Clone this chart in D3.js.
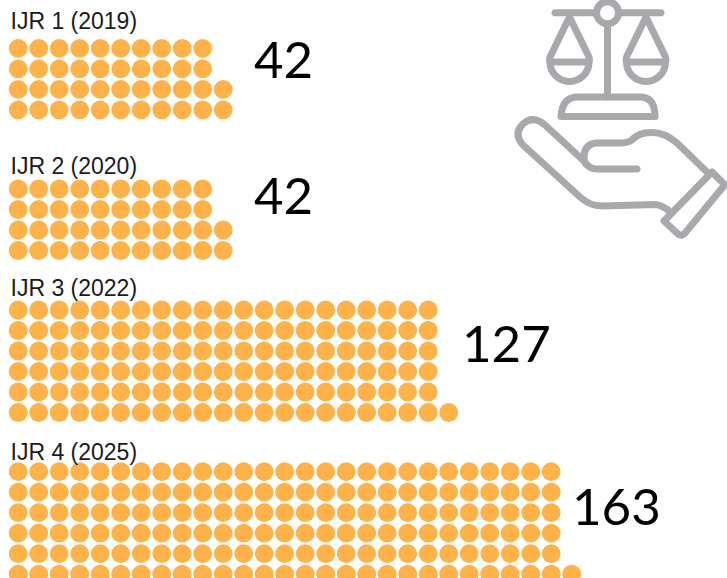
<!DOCTYPE html>
<html>
<head>
<meta charset="utf-8">
<title>IJR dots</title>
<style>
  body{margin:0;background:#fff;}
  svg{display:block;}
  .label{font-family:"Liberation Sans",sans-serif;font-size:23px;fill:#1a1a1a;}
  .total{font-family:Lato,sans-serif;font-size:51px;fill:#000;}
  .icon path,.icon circle{fill:none;stroke:#a7a9ac;stroke-width:7;stroke-linecap:round;stroke-linejoin:round;}
</style>
</head>
<body>
<div id="container"></div>
<script src="https://cdn.jsdelivr.net/npm/d3@7/dist/d3.min.js"></script>
<script>
  var editions = ["IJR 1 (2019)","IJR 2 (2020)","IJR 3 (2022)","IJR 4 (2025)"];
  var totals = [42,42,127,163];
  var rowCounts = [4,4,6,6];

  var width = 727, height = 578;
  var pitch = 20.5, radius = 9.4;
  // px positions per block: top dot row, label baseline, big number
  var blockTop = [48.3,189,310,471.7];
  var labelY = [29,174,296,460];
  var totalX = [254,254,462,572];
  var totalY = [78,214,362,525];

  var svg = d3.select("#container").append("svg")
      .attr("width",width)
      .attr("height",height);

  var xScale = d3.scaleLinear().domain([0,1]).range([18.2,18.2+pitch]);
  var yScale = d3.scaleLinear().domain([0,1]).range([0,pitch]);

  // the leftovers go on the bottom rows, so those rows stick out by one
  function makeDots(total,rows){
    var base = Math.floor(total/rows), extra = total%rows, dots = [];
    for(var r=0;r<rows;r++){
      var n = r >= rows-extra ? base+1 : base;
      for(var c=0;c<n;c++){ dots.push({col:c,row:r}); }
    }
    return dots;
  }

  editions.forEach(function(name,i){
    var g = svg.append("g").attr("transform","translate(0,"+blockTop[i]+")");

    g.selectAll("circle")
      .data(makeDots(totals[i],rowCounts[i]))
      .enter().append("circle")
      .attr("cx",function(d){return xScale(d.col);})
      .attr("cy",function(d){return yScale(d.row);})
      .attr("r",radius)
      .attr("fill","#ffb24a");

    svg.append("text")
      .attr("class","label")
      .attr("x",10.5)
      .attr("y",labelY[i])
      .text(name);

    svg.append("text")
      .attr("class","total")
      .attr("x",totalX[i])
      .attr("y",totalY[i])
      .text(totals[i]);
  });

  //----------------scale and hand icon
  var icon = svg.append("g").attr("class","icon");
  icon.append("path").attr("d","M555,12.7H596M619,12.7H661");
  icon.append("circle").attr("cx",607.5).attr("cy",12.7).attr("r",11);
  icon.append("path").attr("d","M607.5,24V97");
  // pans
  icon.append("path").attr("d","M569.5,17L550,57Q549,60 550,62H589Q590,60 589,57L569.5,17");
  icon.append("path").attr("d","M550,62A19.5,19.5 0 0 0 589,62");
  icon.append("path").attr("d","M646,17L626.5,57Q625.5,60 626.5,62H665.5Q666.5,60 665.5,57L646,17");
  icon.append("path").attr("d","M626.5,62A19.5,19.5 0 0 0 665.5,62");
  // base
  icon.append("path").attr("d","M561,116.5Q562,97 578,97H640Q655,97 655,116.5Z");
  // hand
  icon.append("path").attr("d","M637,169H597Q589,169 585,162L545,125Q533,115 523,124Q513,134 523,145L580,197Q590,206 602,206L655,204.5Q660,204.5 668,210");
  icon.append("path").attr("d","M707,172L677,143Q663,130 645,133Q636,135 632,140Q628,143 620,143H598Q585,143 584,156Q584,162 586,164");
  // cuff
  icon.append("path").attr("d","M712,172L723,183Q725,185 723,187L685,233Q682,237 678,234L664,221Z");
</script>
</body>
</html>
